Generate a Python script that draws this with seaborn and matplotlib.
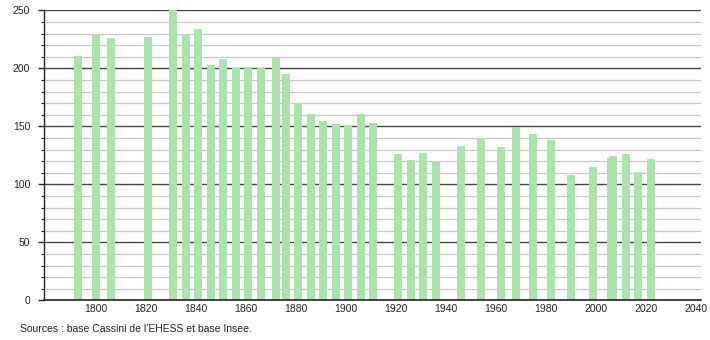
import matplotlib
matplotlib.use("Agg")
import matplotlib.pyplot as plt
import seaborn as sns
import numpy as np
import pandas as pd

years = [1793, 1800, 1806, 1821, 1831, 1836, 1841, 1846, 1851, 1856, 1861, 1866,
         1872, 1876, 1881, 1886, 1891, 1896, 1901, 1906, 1911, 1921, 1926, 1931,
         1936, 1946, 1954, 1962, 1968, 1975, 1982, 1990, 1999, 2006, 2007, 2012,
         2017, 2022]
population = [211, 229, 226, 227, 250, 229, 234, 203, 208, 200, 201, 200,
              209, 195, 170, 161, 155, 152, 151, 161, 153, 126, 121, 127,
              120, 133, 139, 132, 149, 143, 138, 108, 115, 123, 124, 126,
              111, 122]
x_ticks = [1800, 1820, 1840, 1860, 1880, 1900, 1920, 1940, 1960, 1980, 2000, 2020, 2040]
y_ticks = [0, 50, 100, 150, 200, 250]
source_text = "Sources : base Cassini de l'EHESS et base Insee."

df = pd.DataFrame({"year": years, "pop": population})

sns.set_style("white")
plt.rcParams['font.family'] = ['Liberation Sans', 'DejaVu Sans']

fig = plt.figure(figsize=(7.1, 3.4), dpi=100)
ax = fig.add_axes([44/710, 1 - 300.3/340, (701-44)/710, (300.3-10.3)/340])

# grid lines
for v in range(10, 251, 10):
    if v % 50 == 0:
        ax.axhline(v, color="#444444", lw=1.0, zorder=0.5)
    else:
        ax.axhline(v, color="#c8c8c8", lw=0.9, zorder=0.4)

sns.barplot(data=df, x="year", y="pop", native_scale=True, width=3.2,
            color="#ace3ac", saturation=1, errorbar=None, ax=ax, zorder=2,
            linewidth=0)

ax.set_xlim(1779.4, 2042)
ax.set_ylim(0, 250)
ax.set_xticks(x_ticks)
ax.set_xticklabels([str(t) for t in x_ticks])
ax.set_yticks(y_ticks)
ax.set_yticks(range(0, 251, 10), minor=True)
ax.set_xlabel("")
ax.set_ylabel("")

for s in ["top", "right"]:
    ax.spines[s].set_visible(False)
ax.spines["left"].set_color("#222222")
ax.spines["bottom"].set_color("#222222")
ax.spines["left"].set_linewidth(1.0)
ax.spines["bottom"].set_linewidth(1.2)

ax.tick_params(axis="x", length=0, pad=3, labelsize=7.5, colors="#222222")
ax.tick_params(axis="y", which="major", length=4, width=1, pad=6, labelsize=7.5,
               colors="#222222", left=True)
ax.tick_params(axis="y", which="minor", length=2, width=0.8, left=True, colors="#222222")

fig.text(20/710, 1 - 329/340, source_text, fontsize=7.5, color="#222222",
         va="center", ha="left")

fig.savefig("out.png", dpi=100, facecolor="white")
